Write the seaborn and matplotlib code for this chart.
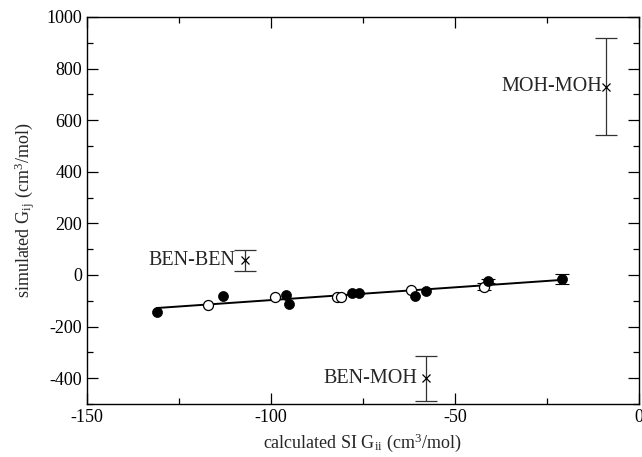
import numpy as np
import pandas as pd
import matplotlib
matplotlib.use("Agg")
import matplotlib.pyplot as plt
from matplotlib.ticker import MultipleLocator
import seaborn as sns

# --- data ---
filled_x = [-131, -113, -96, -95, -78, -76, -61, -58, -41, -21]
filled_y = [-145, -81, -78, -114, -71, -71, -83, -61, -23, -15]
filled_err = [0, 0, 0, 0, 0, 0, 0, 0, 8, 20]

open_x = [-117, -99, -82, -81, -62, -42]
open_y = [-115, -86, -85, -85, -57, -45]
open_err = [0, 0, 0, 0, 0, 12]

pair_labels = ["MOH-MOH", "BEN-BEN", "BEN-MOH"]
pair_x = [-9, -107, -58]
pair_y = [729, 57, -400]
pair_err = [188, 40, 87]

# label offsets (points) to the left of each marker
label_offsets = {"MOH-MOH": -3, "BEN-BEN": -7, "BEN-MOH": -6}

sns.set_theme(style="ticks")
plt.rcParams["font.family"] = ["Liberation Serif", "DejaVu Serif"]
plt.rcParams["mathtext.fontset"] = "stix"
plt.rcParams["axes.unicode_minus"] = False

fig = plt.figure(figsize=(6.42, 4.57), dpi=100)
ax = fig.add_axes([0.1355, 0.116, 0.8598, 0.847])

df_f = pd.DataFrame({"x": filled_x, "y": filled_y, "err": filled_err})
df_o = pd.DataFrame({"x": open_x, "y": open_y, "err": open_err})
df_all = pd.concat([df_f, df_o], ignore_index=True)

# regression line through all circles
sns.regplot(data=df_all, x="x", y="y", scatter=False, ci=None, ax=ax,
            line_kws=dict(color="black", lw=1.4))

# error bars on circles (only where an error is visible)
eb = df_all[df_all["err"] > 0]
ax.errorbar(eb["x"], eb["y"], yerr=eb["err"], fmt="none", ecolor="black",
            elinewidth=0.8, capsize=5, capthick=0.8)

sns.scatterplot(data=df_o, x="x", y="y", ax=ax, marker="o", s=52,
                facecolor="white", edgecolor="black", linewidth=0.9, zorder=3)
sns.scatterplot(data=df_f, x="x", y="y", ax=ax, marker="o", s=52,
                color="black", edgecolor="black", linewidth=0.5, zorder=4)

# pair points with large error bars
ax.errorbar(pair_x, pair_y, yerr=pair_err, fmt="x", color="black",
            ecolor="#333333", markersize=6, markeredgewidth=0.9,
            elinewidth=0.9, capsize=8, capthick=0.9)
for lab, px, py in zip(pair_labels, pair_x, pair_y):
    ax.annotate(lab, (px, py), xytext=(label_offsets[lab], 0),
                textcoords="offset points",
                ha="right", va="center", fontsize=14.5)

ax.set_xlim(-150, 0)
ax.set_ylim(-500, 1000)
ax.xaxis.set_major_locator(MultipleLocator(50))
ax.xaxis.set_minor_locator(MultipleLocator(25))
ax.yaxis.set_major_locator(MultipleLocator(200))
ax.yaxis.set_minor_locator(MultipleLocator(100))
ax.tick_params(which="both", direction="in", top=True, right=True,
               labelsize=13, width=0.9, colors="black")
ax.tick_params(which="major", length=8)
ax.tick_params(which="minor", length=4.5)
for s in ax.spines.values():
    s.set_linewidth(1.0)
    s.set_color("black")

ax.set_xlabel(r"calculated SI G$_{\mathregular{ii}}$ (cm$^{\mathregular{3}}$/mol)",
              fontsize=13, labelpad=4)
ax.set_ylabel(r"simulated G$_{\mathregular{ij}}$ (cm$^{\mathregular{3}}$/mol)",
              fontsize=13, labelpad=6)

fig.savefig("out.png", dpi=100)
